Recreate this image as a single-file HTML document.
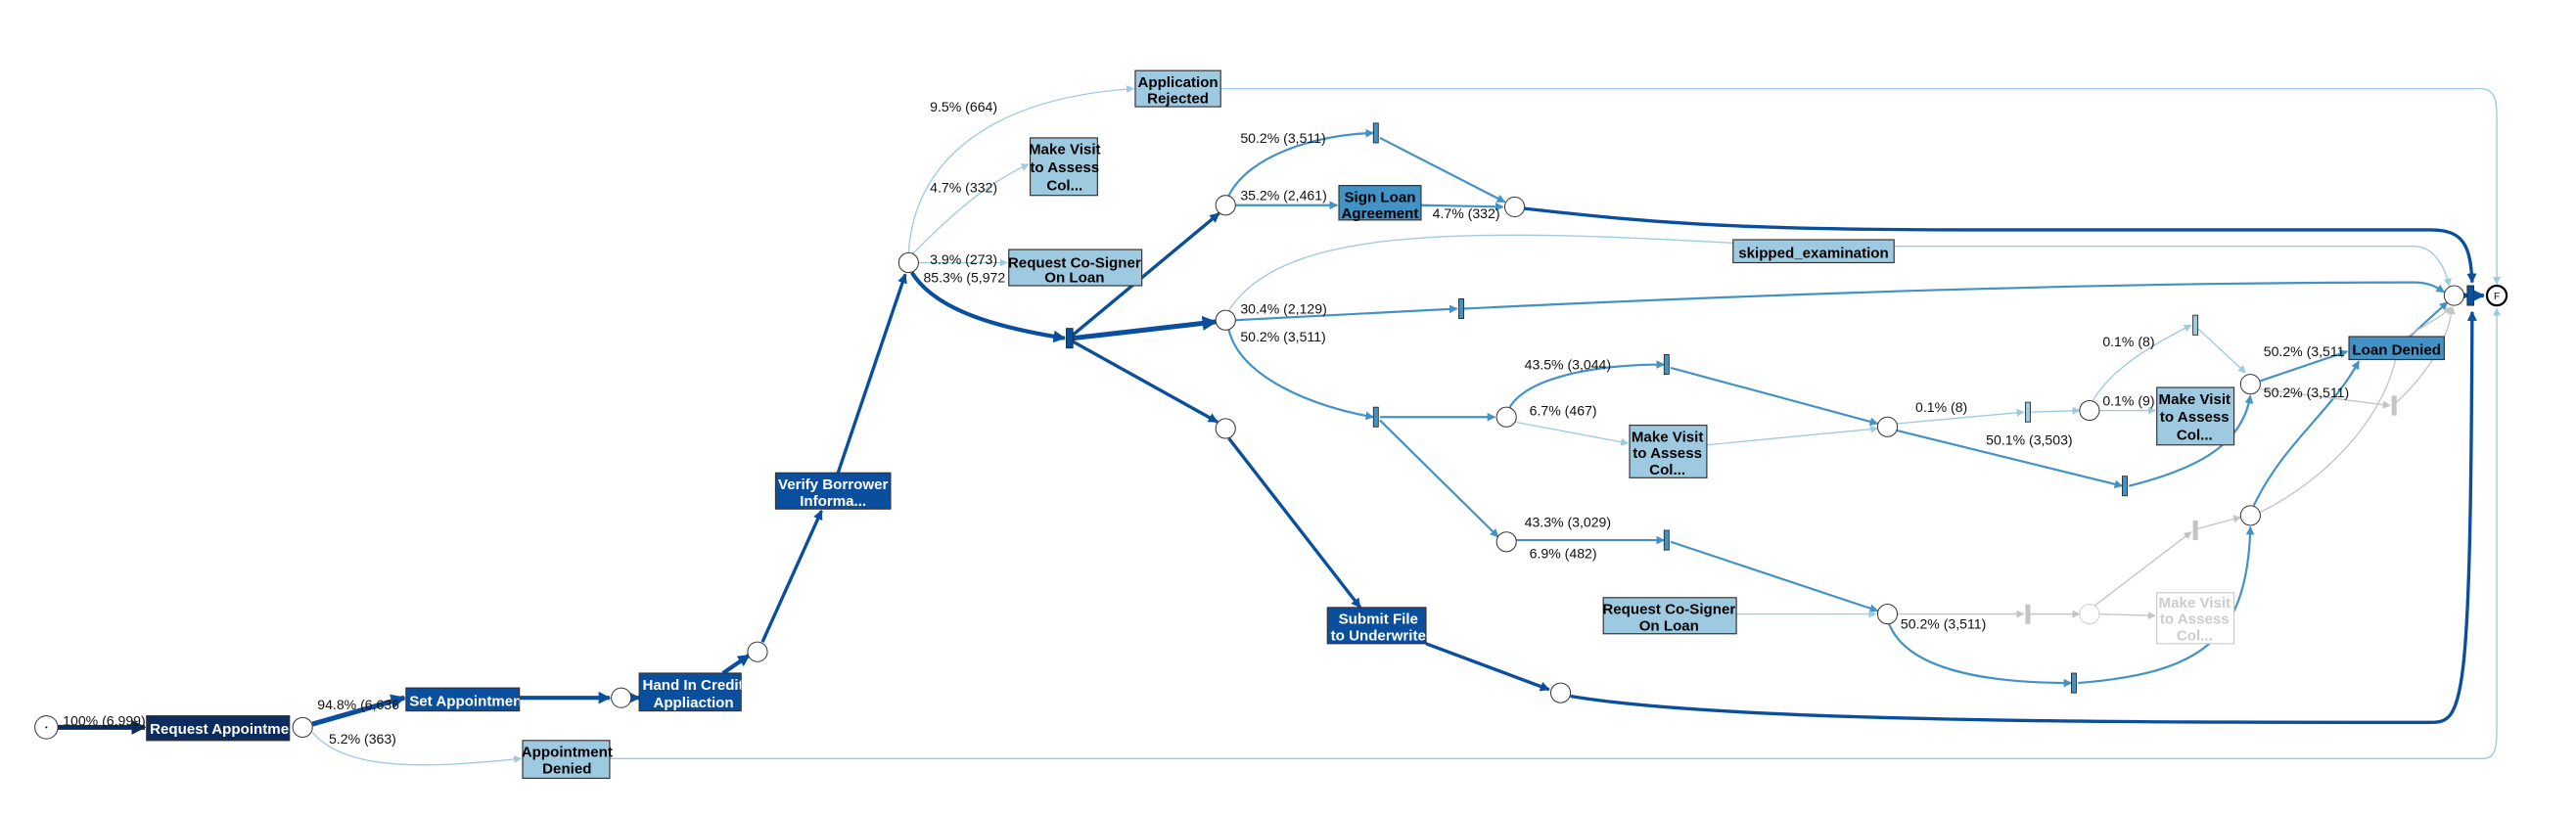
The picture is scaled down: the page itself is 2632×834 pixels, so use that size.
<!DOCTYPE html>
<html><head><meta charset="utf-8"><style>
html,body{margin:0;padding:0;background:#fff;}
svg{display:block;}
text{font-family:"Liberation Sans",Arial,sans-serif;}
.l{font-size:8.4px;fill:#111;}
.b{font-size:9px;font-weight:bold;text-anchor:middle;}
</style></head><body>
<svg width="2632" height="834" viewBox="0 0 1568 497" xmlns="http://www.w3.org/2000/svg">
<defs>
<marker id="ad" viewBox="0 0 10 10" refX="9" refY="5" markerWidth="3" markerHeight="3" orient="auto"><path d="M0,0L10,5L0,10z" fill="#0d2c5e"/></marker>
<marker id="am" viewBox="0 0 10 10" refX="9" refY="5" markerWidth="3" markerHeight="3" orient="auto"><path d="M0,0L10,5L0,10z" fill="#0a4f9e"/></marker>
<marker id="ab" viewBox="0 0 10 10" refX="9" refY="5" markerWidth="4" markerHeight="4" orient="auto"><path d="M0,0L10,5L0,10z" fill="#4292c6"/></marker>
<marker id="al" viewBox="0 0 10 10" refX="9" refY="5" markerWidth="6" markerHeight="6" orient="auto"><path d="M0,0L10,5L0,10z" fill="#9ecae1"/></marker>
<marker id="ag" viewBox="0 0 10 10" refX="9" refY="5" markerWidth="6" markerHeight="6" orient="auto"><path d="M0,0L10,5L0,10z" fill="#c4c4c4"/></marker>
<clipPath id="c1"><rect x="89" y="436" width="87" height="15"/></clipPath>
<clipPath id="c2"><rect x="247" y="419" width="69" height="14"/></clipPath>
<clipPath id="c3"><rect x="389" y="410" width="62" height="23"/></clipPath>
<clipPath id="c4"><rect x="472" y="288" width="70" height="22"/></clipPath>
<clipPath id="c5"><rect x="808" y="370" width="60" height="22"/></clipPath>
</defs>
<g fill="none">
<path d="M35,443 L88,443" stroke="#0d2c5e" stroke-width="3" marker-end="url(#ad)"/>
<path d="M190,441 L246,425" stroke="#0a4f9e" stroke-width="3" marker-end="url(#am)"/>
<path d="M316,425 L371,425" stroke="#0a4f9e" stroke-width="2.5" marker-end="url(#am)"/>
<path d="M384,425 L389,425" stroke="#0a4f9e" stroke-width="2.5" marker-end="url(#am)"/>
<path d="M440,410 L456,399" stroke="#0a4f9e" stroke-width="2.5" marker-end="url(#am)"/>
<path d="M464,391 L500,311" stroke="#0a4f9e" stroke-width="2" marker-end="url(#am)"/>
<path d="M510,288 L551,167" stroke="#0a4f9e" stroke-width="2" marker-end="url(#am)"/>
<path d="M555,166 C570,190 610,200 648,206" stroke="#0a4f9e" stroke-width="2.5" marker-end="url(#am)"/>
<path d="M653,204 L742,130" stroke="#0a4f9e" stroke-width="2" marker-end="url(#am)"/>
<path d="M653,206 L740,196" stroke="#0a4f9e" stroke-width="3" marker-end="url(#am)"/>
<path d="M653,208 L741,257" stroke="#0a4f9e" stroke-width="2" marker-end="url(#am)"/>
<path d="M748,267 L828,370" stroke="#0a4f9e" stroke-width="2" marker-end="url(#am)"/>
<path d="M868,392 L943,420" stroke="#0a4f9e" stroke-width="2" marker-end="url(#am)"/>
<path d="M956,424 C1050,440 1300,440 1480,440 C1500,440 1504,430 1505,190" stroke="#0a4f9e" stroke-width="2" marker-end="url(#am)"/>
<path d="M928,127 C1000,135 1050,140 1200,140 L1480,140 C1500,140 1504,150 1505,172" stroke="#0a4f9e" stroke-width="2" marker-end="url(#am)"/>
<path d="M1500,180 L1503,180" stroke="#0a4f9e" stroke-width="2.5" marker-end="url(#am)"/>
<path d="M1508,180 L1512,180" stroke="#0a4f9e" stroke-width="2.5" marker-end="url(#am)"/>
<path d="M748,119 C760,95 800,82 836,81" stroke="#4292c6" stroke-width="1.3" marker-end="url(#ab)"/>
<path d="M840,84 L916,123" stroke="#4292c6" stroke-width="1.3" marker-end="url(#ab)"/>
<path d="M752,125 L814,125" stroke="#4292c6" stroke-width="1.3" marker-end="url(#ab)"/>
<path d="M865,125 L915,126" stroke="#4292c6" stroke-width="1.3" marker-end="url(#ab)"/>
<path d="M752,195 L887,188" stroke="#4292c6" stroke-width="1.3" marker-end="url(#ab)"/>
<path d="M891,188 C1100,178 1300,172 1470,172 C1480,172 1485,176 1488,178" stroke="#4292c6" stroke-width="1.3" marker-end="url(#ab)"/>
<path d="M748,201 C755,230 800,248 836,254" stroke="#4292c6" stroke-width="1.3" marker-end="url(#ab)"/>
<path d="M840,254 L910,254" stroke="#4292c6" stroke-width="1.3" marker-end="url(#ab)"/>
<path d="M840,256 L912,327" stroke="#4292c6" stroke-width="1.3" marker-end="url(#ab)"/>
<path d="M919,248 C930,230 970,222 1013,222" stroke="#4292c6" stroke-width="1.3" marker-end="url(#ab)"/>
<path d="M1017,224 L1143,258" stroke="#4292c6" stroke-width="1.3" marker-end="url(#ab)"/>
<path d="M1154,262 L1292,296" stroke="#4292c6" stroke-width="1.3" marker-end="url(#ab)"/>
<path d="M1296,296 C1340,285 1365,270 1370,241" stroke="#4292c6" stroke-width="1.3" marker-end="url(#ab)"/>
<path d="M1376,232 L1429,214" stroke="#4292c6" stroke-width="1.3" marker-end="url(#ab)"/>
<path d="M1467,205 L1490,184" stroke="#4292c6" stroke-width="1.3" marker-end="url(#ab)"/>
<path d="M923,329 L1013,329" stroke="#4292c6" stroke-width="1.3" marker-end="url(#ab)"/>
<path d="M1017,330 L1143,372" stroke="#4292c6" stroke-width="1.3" marker-end="url(#ab)"/>
<path d="M1150,380 C1160,405 1200,416 1261,416" stroke="#4292c6" stroke-width="1.3" marker-end="url(#ab)"/>
<path d="M1265,416 C1340,410 1368,390 1370,321" stroke="#4292c6" stroke-width="1.3" marker-end="url(#ab)"/>
<path d="M1372,308 C1390,270 1420,250 1436,220" stroke="#4292c6" stroke-width="1.3" marker-end="url(#ab)"/>
<path d="M190,446 C210,470 260,468 317,462" stroke="#9ecae1" stroke-width="0.8" marker-end="url(#al)"/>
<path d="M371,462 L1512,462 C1519,462 1520,455 1520,445 L1520,188" stroke="#9ecae1" stroke-width="0.8" marker-end="url(#al)"/>
<path d="M553,154 C556,100 600,60 690,54" stroke="#9ecae1" stroke-width="0.8" marker-end="url(#al)"/>
<path d="M743,54 L1510,54 C1518,54 1520,60 1520,70 L1520,173" stroke="#9ecae1" stroke-width="0.8" marker-end="url(#al)"/>
<path d="M555,155 C580,130 600,112 626,100" stroke="#9ecae1" stroke-width="0.8" marker-end="url(#al)"/>
<path d="M559,160 L613,160" stroke="#9ecae1" stroke-width="0.8" marker-end="url(#al)"/>
<path d="M748,189 C780,140 880,138 1055,148" stroke="#9ecae1" stroke-width="0.8"/>
<path d="M1153,150 L1470,150 C1480,150 1488,160 1491,174" stroke="#9ecae1" stroke-width="0.8" marker-end="url(#al)"/>
<path d="M922,257 L991,270" stroke="#9ecae1" stroke-width="0.8" marker-end="url(#al)"/>
<path d="M1039,271 L1143,261" stroke="#9ecae1" stroke-width="0.8" marker-end="url(#al)"/>
<path d="M1155,258 L1232,251" stroke="#9ecae1" stroke-width="0.8" marker-end="url(#al)"/>
<path d="M1236,251 L1266,250" stroke="#9ecae1" stroke-width="0.8" marker-end="url(#al)"/>
<path d="M1278,250 L1312,250" stroke="#9ecae1" stroke-width="0.8" marker-end="url(#al)"/>
<path d="M1274,244 C1285,225 1310,210 1334,198" stroke="#9ecae1" stroke-width="0.8" marker-end="url(#al)"/>
<path d="M1338,200 L1367,227" stroke="#9ecae1" stroke-width="0.8" marker-end="url(#al)"/>
<path d="M1057,374 L1142,374" stroke="#9ecae1" stroke-width="0.8" marker-end="url(#al)"/>
<g stroke="#c4c4c4" stroke-width="0.8">
<path d="M1376,237 L1455,247" marker-end="url(#ag)"/>
<path d="M1459,245 C1475,230 1490,210 1493,187" marker-end="url(#ag)"/>
<path d="M1155,374 L1232,374" marker-end="url(#ag)"/>
<path d="M1236,374 L1266,374" marker-end="url(#ag)"/>
<path d="M1278,374 L1312,375" marker-end="url(#ag)"/>
<path d="M1275,369 L1334,324" marker-end="url(#ag)"/>
<path d="M1338,322 L1364,315" marker-end="url(#ag)"/>
<path d="M1376,312 C1420,290 1455,250 1460,210 C1470,200 1485,195 1492,187" marker-end="url(#ag)"/>
</g>
</g>
<g fill="#fff" stroke="#333" stroke-width="0.6">
<circle cx="28" cy="443" r="7"/><circle cx="184" cy="443" r="6"/><circle cx="378" cy="425" r="6"/>
<circle cx="461" cy="397" r="6"/><circle cx="553" cy="160" r="6"/>
<circle cx="746" cy="125" r="6"/><circle cx="746" cy="195" r="6"/><circle cx="746" cy="261" r="6"/>
<circle cx="922" cy="126" r="6"/><circle cx="917" cy="254" r="6"/><circle cx="917" cy="330" r="6"/>
<circle cx="1149" cy="260" r="6"/><circle cx="1272" cy="250" r="6"/><circle cx="1370" cy="234" r="6"/>
<circle cx="1149" cy="374" r="6"/><circle cx="1370" cy="314" r="6"/><circle cx="950" cy="422" r="6"/>
<circle cx="1494" cy="180" r="6"/>
<circle cx="1272" cy="374" r="6" stroke="#ccc"/>
</g>
<circle cx="1520" cy="180" r="6" fill="#fff" stroke="#000" stroke-width="1.3"/>
<text x="1520" y="182.5" font-size="6" text-anchor="middle">F</text>
<circle cx="28" cy="443" r="0.6" fill="#000"/>
<g stroke="#222" stroke-width="0.5">
<rect x="649" y="200" width="4" height="12" fill="#08519c"/>
<rect x="836" y="75" width="3" height="12" fill="#4292c6"/>
<rect x="888" y="182" width="3" height="12" fill="#4292c6"/>
<rect x="836" y="248" width="3" height="12" fill="#4292c6"/>
<rect x="1013" y="216" width="3" height="12" fill="#4292c6"/>
<rect x="1013" y="323" width="3" height="12" fill="#4292c6"/>
<rect x="1292" y="290" width="3" height="12" fill="#4292c6"/>
<rect x="1261" y="410" width="3" height="12" fill="#4292c6"/>
<rect x="1233" y="245" width="3" height="12" fill="#9ecae1"/>
<rect x="1335" y="192" width="3" height="12" fill="#9ecae1"/>
<rect x="1502" y="174" width="4" height="12" fill="#08519c"/>
</g>
<g fill="#c4c4c4"><rect x="1233" y="368" width="3" height="12"/><rect x="1335" y="317" width="3" height="12"/><rect x="1456" y="241" width="3" height="12"/></g>
<g stroke="#333" stroke-width="0.7">
<rect x="89" y="436" width="87" height="15" fill="#0d2c5e"/>
<rect x="247" y="419" width="69" height="14" fill="#0a4f9e"/>
<rect x="389" y="410" width="62" height="23" fill="#0a4f9e"/>
<rect x="472" y="288" width="70" height="22" fill="#0a4f9e"/>
<rect x="808" y="370" width="60" height="22" fill="#0a4f9e"/>
<rect x="815" y="113" width="50" height="21" fill="#4292c6"/>
<rect x="1430" y="205" width="58" height="14" fill="#4292c6"/>
<rect x="318" y="451" width="53" height="23" fill="#9ecae1"/>
<rect x="691" y="43" width="52" height="22" fill="#9ecae1"/>
<rect x="627" y="84" width="41" height="35" fill="#9ecae1"/>
<rect x="614" y="152" width="81" height="22" fill="#9ecae1"/>
<rect x="1055" y="146" width="98" height="14" fill="#9ecae1"/>
<rect x="992" y="259" width="47" height="32" fill="#9ecae1"/>
<rect x="1313" y="236" width="47" height="35" fill="#9ecae1"/>
<rect x="976" y="364" width="81" height="22" fill="#9ecae1"/>
<rect x="1313" y="361" width="47" height="31" fill="#fff" stroke="#ccc"/>
</g>
<g class="b" fill="#fff">
<text x="91" y="447" text-anchor="start" clip-path="url(#c1)">Request Appointment</text>
<text x="249" y="430" text-anchor="start" clip-path="url(#c2)">Set Appointment</text>
<g clip-path="url(#c3)"><text x="391" y="420" text-anchor="start">Hand In Credit</text><text x="422" y="431">Appliaction</text></g>
<g clip-path="url(#c4)"><text x="507" y="298">Verify Borrower</text><text x="507" y="308">Informa...</text></g>
<g clip-path="url(#c5)"><text x="839" y="380">Submit File</text><text x="839" y="390">to Underwrite</text></g>
</g>
<g class="b" fill="#000">
<text x="840" y="123">Sign Loan</text><text x="840" y="133">Agreement</text>
<text x="1459" y="216">Loan Denied</text>
<text x="345" y="461">Appointment</text><text x="345" y="471">Denied</text>
<text x="717" y="53">Application</text><text x="717" y="63">Rejected</text>
<text x="648" y="94">Make Visit</text><text x="648" y="105">to Assess</text><text x="648" y="116">Col...</text>
<text x="654" y="163">Request Co-Signer</text><text x="654" y="172">On Loan</text>
<text x="1104" y="157">skipped_examination</text>
<text x="1015" y="269">Make Visit</text><text x="1015" y="279">to Assess</text><text x="1015" y="289">Col...</text>
<text x="1336" y="246">Make Visit</text><text x="1336" y="257">to Assess</text><text x="1336" y="268">Col...</text>
<text x="1016" y="374">Request Co-Signer</text><text x="1016" y="384">On Loan</text>
<text x="1336" y="370" fill="#ccc">Make Visit</text><text x="1336" y="380" fill="#ccc">to Assess</text><text x="1336" y="390" fill="#ccc">Col...</text>
</g>
<g class="l">
<text x="38" y="442">100% (6,999)</text>
<text x="193" y="432">94.8% (6,636</text>
<text x="200" y="453">5.2% (363)</text>
<text x="566" y="68">9.5% (664)</text>
<text x="566" y="117">4.7% (332)</text>
<text x="566" y="161">3.9% (273)</text>
<text x="562" y="172">85.3% (5,972</text>
<text x="755" y="87">50.2% (3,511)</text>
<text x="755" y="122">35.2% (2,461)</text>
<text x="872" y="133">4.7% (332)</text>
<text x="755" y="191">30.4% (2,129)</text>
<text x="755" y="208">50.2% (3,511)</text>
<text x="928" y="225">43.5% (3,044)</text>
<text x="931" y="253">6.7% (467)</text>
<text x="1166" y="251">0.1% (8)</text>
<text x="1280" y="247">0.1% (9)</text>
<text x="1280" y="211">0.1% (8)</text>
<text x="1209" y="271">50.1% (3,503)</text>
<text x="1378" y="217">50.2% (3,511</text>
<text x="1378" y="242">50.2% (3,511)</text>
<text x="928" y="321">43.3% (3,029)</text>
<text x="931" y="340">6.9% (482)</text>
<text x="1157" y="383">50.2% (3,511)</text>
</g>
</svg>
</body></html>
